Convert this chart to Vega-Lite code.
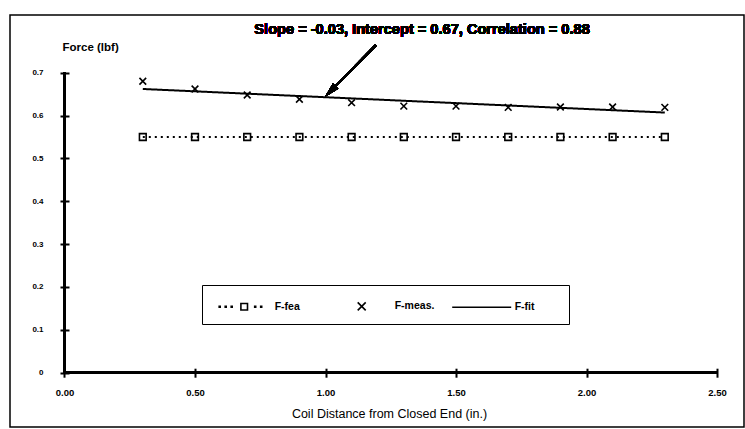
{
  "$schema": "https://vega.github.io/schema/vega-lite/v6.json",
  "width": 734,
  "height": 412,
  "autosize": "none",
  "padding": {"left": 10, "top": 15, "right": 1, "bottom": 2},
  "config": {
    "view": {"stroke": "black", "strokeWidth": 1.5},
    "font": "Liberation Sans",
    "axis": {"ticks": true, "tickColor": "black"}
  },
  "data": {
    "values": [
      {"x": 0.3, "series": "F-fea", "force": 0.55},
      {"x": 0.5, "series": "F-fea", "force": 0.55},
      {"x": 0.7, "series": "F-fea", "force": 0.55},
      {"x": 0.9, "series": "F-fea", "force": 0.55},
      {"x": 1.1, "series": "F-fea", "force": 0.55},
      {"x": 1.3, "series": "F-fea", "force": 0.55},
      {"x": 1.5, "series": "F-fea", "force": 0.55},
      {"x": 1.7, "series": "F-fea", "force": 0.55},
      {"x": 1.9, "series": "F-fea", "force": 0.55},
      {"x": 2.1, "series": "F-fea", "force": 0.55},
      {"x": 2.3, "series": "F-fea", "force": 0.55},
      {"x": 0.3, "series": "F-meas.", "force": 0.68},
      {"x": 0.5, "series": "F-meas.", "force": 0.662},
      {"x": 0.7, "series": "F-meas.", "force": 0.648},
      {"x": 0.9, "series": "F-meas.", "force": 0.638},
      {"x": 1.1, "series": "F-meas.", "force": 0.63},
      {"x": 1.3, "series": "F-meas.", "force": 0.622},
      {"x": 1.5, "series": "F-meas.", "force": 0.622},
      {"x": 1.7, "series": "F-meas.", "force": 0.619},
      {"x": 1.9, "series": "F-meas.", "force": 0.62},
      {"x": 2.1, "series": "F-meas.", "force": 0.62},
      {"x": 2.3, "series": "F-meas.", "force": 0.619},
      {"x": 0.3, "series": "F-fit", "force": 0.662},
      {"x": 0.5, "series": "F-fit", "force": 0.6565},
      {"x": 0.7, "series": "F-fit", "force": 0.651},
      {"x": 0.9, "series": "F-fit", "force": 0.6455},
      {"x": 1.1, "series": "F-fit", "force": 0.64},
      {"x": 1.3, "series": "F-fit", "force": 0.6345},
      {"x": 1.5, "series": "F-fit", "force": 0.629},
      {"x": 1.7, "series": "F-fit", "force": 0.6235},
      {"x": 1.9, "series": "F-fit", "force": 0.618},
      {"x": 2.1, "series": "F-fit", "force": 0.6125},
      {"x": 2.3, "series": "F-fit", "force": 0.607}
    ]
  },
  "layer": [
    {
      "transform": [{"filter": {"field": "series", "oneOf": ["F-fea", "F-fit"]}}],
      "mark": {"type": "line", "color": "black", "strokeWidth": 2, "strokeCap": "butt"},
      "encoding": {
        "x": {
          "field": "x", "type": "quantitative",
          "scale": {"domain": [-0.2088, 2.6034], "nice": false, "zero": false},
          "axis": {
            "values": [0, 0.5, 1, 1.5, 2, 2.5], "format": ".2f",
            "domain": false, "grid": false, "ticks": true,
            "tickSize": 9, "tickWidth": 2, "tickColor": "black", "tickOpacity": 1,
            "offset": -58.8,
            "labelFont": "Liberation Sans", "labelFontSize": 9.5, "labelFontWeight": "bold",
            "labelColor": "black", "labelPadding": 10.5, "labelFlush": false, "labelOverlap": false,
            "title": "Coil Distance from Closed End (in.)",
            "titleFont": "Liberation Sans", "titleFontSize": 12.5, "titleFontWeight": "normal",
            "titleColor": "black", "titleX": 379, "titleY": 45,
            "titleBaseline": "middle", "titleAlign": "center"
          }
        },
        "y": {
          "field": "force", "type": "quantitative",
          "scale": {"domain": [-0.1267, 0.8346], "nice": false, "zero": false},
          "axis": {
            "values": [0, 0.1, 0.2, 0.3, 0.4, 0.5, 0.6, 0.7],
            "labelExpr": "datum.value === 0 ? '0' : format(datum.value, '.1f')",
            "domain": false, "grid": false, "ticks": true,
            "tickSize": 9, "tickWidth": 2, "tickColor": "black", "tickOpacity": 1,
            "offset": -59,
            "labelFont": "Liberation Sans", "labelFontSize": 8, "labelFontWeight": "bold",
            "labelColor": "black", "labelPadding": 17, "labelFlush": false, "labelOverlap": false,
            "title": "Force (lbf)",
            "titleFont": "Liberation Sans", "titleFontSize": 11.5, "titleFontWeight": "bold",
            "titleColor": "black", "titleAngle": 0, "titleAlign": "left", "titleBaseline": "middle",
            "titleX": -7, "titleY": 32
          }
        },
        "strokeDash": {
          "field": "series", "type": "nominal",
          "scale": {"domain": ["F-fea", "F-fit"], "range": [[2, 4], [1, 0]]},
          "legend": null
        }
      }
    },
    {
      "transform": [{"filter": {"field": "series", "oneOf": ["F-fea", "F-meas."]}}],
      "mark": {"type": "point", "filled": false, "color": "black", "strokeWidth": 1.6, "size": 45, "opacity": 1},
      "encoding": {
        "x": {"field": "x", "type": "quantitative"},
        "y": {"field": "force", "type": "quantitative"},
        "shape": {
          "field": "series", "type": "nominal",
          "scale": {"domain": ["F-fea", "F-meas."], "range": ["square", "M-1,-1L1,1M-1,1L1,-1"]},
          "legend": null
        }
      }
    },
    {
      "transform": [{"filter": "datum.x < 0"}],
      "mark": {"type": "point", "filled": false, "color": "black", "strokeWidth": 1.6},
      "encoding": {
        "x": {"field": "x", "type": "quantitative"},
        "y": {"field": "force", "type": "quantitative"},
        "shape": {
          "field": "series", "type": "nominal",
          "scale": {
            "domain": ["F-fea", "F-meas.", "F-fit"],
            "range": [
              "M-2.25,-0.05h0.1v0.1h-0.1zM-1.65,-0.05h0.1v0.1h-0.1zM-1.05,-0.05h0.1v0.1h-0.1zM-0.08,-0.33h0.66v0.66h-0.66zM1.3,-0.05h0.1v0.1h-0.1zM1.9,-0.05h0.1v0.1h-0.1z",
              "M-0.4,-0.4L0.4,0.4M-0.4,0.4L0.4,-0.4",
              "M-2.95,0L2.95,0"
            ]
          },
          "legend": {
            "orient": "none", "legendX": 192, "legendY": 270,
            "direction": "horizontal",
            "title": " ", "titleOrient": "right", "titlePadding": 24, "titleFontSize": 10,
            "strokeColor": "black", "padding": 10,
            "symbolSize": 400, "symbolStrokeWidth": 1.6, "symbolStrokeColor": "black",
            "symbolFillColor": "transparent", "symbolOpacity": 1,
            "symbolOffset": 18.7, "labelOffset": 22,
            "labelFont": "Liberation Sans", "labelFontSize": 10.5, "labelFontWeight": "bold",
            "labelColor": "black", "columnPadding": 13, "gridAlign": "all",
            "encode": {"legend": {"update": {"strokeWidth": {"value": 1.5}}}}
          }
        }
      }
    },
    {
      "mark": {"type": "rule", "color": "black", "strokeWidth": 2},
      "encoding": {"x": {"datum": 0}, "x2": {"datum": 2.5}, "y": {"datum": 0}}
    },
    {
      "mark": {"type": "rule", "color": "black", "strokeWidth": 2},
      "encoding": {"x": {"datum": 0}, "y": {"datum": 0}, "y2": {"datum": 0.7}}
    },
    {
      "mark": {"type": "rule", "color": "black", "strokeWidth": 2},
      "encoding": {"x": {"datum": 1.1935}, "y": {"datum": 0.7646}, "x2": {"datum": 1.0184}, "y2": {"datum": 0.6564}}
    },
    {
      "mark": {"type": "point", "filled": true, "color": "black", "opacity": 1, "shape": "M0,-1L-0.5,1L0.5,1Z", "size": 225, "angle": 224.6},
      "encoding": {"x": {"datum": 1.0184}, "y": {"datum": 0.6564}}
    },
    {
      "mark": {"type": "text", "text": "Slope = -0.03, Intercept = 0.67, Correlation = 0.88", "font": "Liberation Sans", "fontSize": 14.6, "fontWeight": "bold", "color": "black", "align": "center", "baseline": "middle"},
      "encoding": {"x": {"datum": 1.37}, "y": {"datum": 0.7996}}
    }
  ],
  "resolve": {"scale": {"shape": "independent"}}
}
